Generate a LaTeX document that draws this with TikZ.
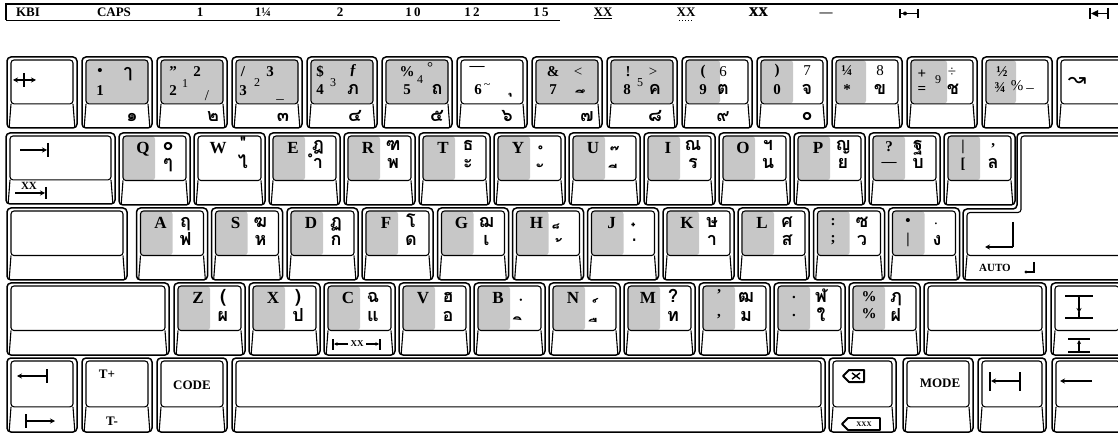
\documentclass[tikz,border=0pt]{standalone}
\usepackage{fontspec}
\setmainfont{Liberation Serif}
\newfontfamily\thaifont[Script=Thai]{Loma}
\newfontfamily\symfont{DejaVu Sans}
\usetikzlibrary{arrows.meta}
\tikzset{
  keyout/.style={line width=1.5pt, rounded corners=4pt},
  keyface/.style={line width=1.1pt, rounded corners=3pt},
  keyshade/.style={fill=black!22, rounded corners=2.5pt},
  lat/.style={font=\bfseries\fontsize{17}{17}\selectfont, anchor=base, inner sep=0pt},
  thb/.style={font=\thaifont\bfseries\fontsize{18}{18}\selectfont, anchor=base, inner sep=0pt},
  dig/.style={font=\bfseries\fontsize{15}{15}\selectfont, inner sep=0pt},
  supd/.style={font=\fontsize{12}{12}\selectfont, inner sep=0pt},
  regd/.style={font=\fontsize{15}{15}\selectfont, inner sep=0pt},
  lbl/.style={font=\bfseries\fontsize{13}{13}\selectfont, anchor=base, inner sep=0pt},
  klbl/.style={font=\bfseries\fontsize{13}{13}\selectfont, inner sep=0pt},
  sym/.style={line width=1.6pt},
  arr/.style={sym, -{Stealth[length=5pt,width=5pt]}},
}
\newcommand{\kks}[5]{%
  \ifdim #5pt>0pt \fill[keyshade] (#1+4.5,#2+3.5) rectangle (#1+4+#5,#2+0.66*#4-0.5);\fi
  \draw[keyout] (#1,#2) rectangle ++(#3,#4);
  \draw[keyface] (#1+4,#2+3) rectangle (#1+#3-4,#2+0.66*#4);
  \draw[keyface] (#1+4,#2+0.66*#4) -- (#1+2.2,#2+#4-0.8);
  \draw[keyface] (#1+#3-4,#2+0.66*#4) -- (#1+#3-2.2,#2+#4-0.8);
}
\newcommand{\lkey}[9]{%
  \kks{#2}{#3}{71}{72}{#7}%
  \node[lat] (#1) at (#2+24,#3+21) {#4};
  \node[thb] (#1t) at (#2+49,#3+#8) {#5};
  \node[thb] (#1b) at (#2+49,#3+#9) {#6};
}
\begin{document}
\begin{tikzpicture}[x=1pt,y=-1pt]
\useasboundingbox (0,0) rectangle (1118,435);
% ---------- top bar ----------
\draw[line width=1.3pt] (6,20) -- (6,4) -- (1118,4);
\draw[line width=0.8pt] (6,20) -- (560,20);
\node[lbl] (tKBI) at (28,17) {KBI};
\node[lbl] (tCAPS) at (114,17) {CAPS};
\node[lbl] (t1) at (200,17) {1};
\node[lbl] (t14) at (263,17) {1¼};
\node[lbl] (t2) at (340,17) {2};
\node[lbl] (t10) at (413,17) {1\,0};
\node[lbl] (t12) at (472,17) {1\,2};
\node[lbl] (t15) at (541,17) {1\,5};
\node[lbl] (tXXa) at (603,17) {\underline{XX}};
\node[lbl] (tXXb) at (686,17) {XX};
\draw[line width=1pt, dotted] (679,21) -- (693,21);
\node[lbl] (tXXc) at (758,17) {XX};
\node[lbl] (tXXd) at (758.8,17) {XX};
\node[lbl] (tdash) at (826,17) {—};
\draw[sym] (900,9) -- (900,18) (918,9) -- (918,18) (900,13.5) -- (918,13.5);
\fill (905,13.5) circle (2pt);
\draw[line width=2.2pt] (1090,8) -- (1090,19);
\draw[sym] (1108,8) -- (1108,19) (1092,13.5) -- (1108,13.5);
\fill (1091,13.5) -- (1098,10) -- (1098,17) -- cycle;
% ---------- row 1 ----------
\kks{7}{57}{70}{71}{0}
\kks{82}{57}{70}{71}{62}
\kks{157}{57}{70}{71}{62}
\kks{232}{57}{70}{71}{62}
\kks{307}{57}{70}{71}{62}
\kks{382}{57}{70}{71}{62}
\kks{457}{57}{70}{71}{0}
\kks{532}{57}{70}{71}{62}
\kks{607}{57}{70}{71}{62}
\kks{682}{57}{70}{71}{34}
\kks{757}{57}{70}{71}{32}
\kks{832}{57}{70}{71}{30}
\kks{907}{57}{70}{71}{36}
\kks{982}{57}{70}{71}{30}
\kks{1057}{57}{70}{71}{0}
% key 0
\draw[sym] (24,73) -- (24,87);
\draw[arr] (24,80) -- (13,80);
\draw[arr] (24,80) -- (36,80);
% key 1
\node[dig] (k1a) at (100,72) {•};
\node[dig] (k1b) at (100,91) {1};
\node[thb] (k1c) at (128,78) {ๅ};
\node[thb] (k1d) at (132,122) {๑};
% key 2
\node[dig] (k2a) at (173,72) {"};
\node[dig] (k2b) at (173,91) {2};
\node[supd] (k2c) at (185,84) {1};
\node[dig] (k2d) at (197,72) {2};
\node[regd] (k2e) at (207,96) {/};
\node[thb] (k2f) at (213,122) {๒};
% key 3
\node[dig] (k3a) at (243,72) {/};
\node[dig] (k3b) at (243,91) {3};
\node[supd] (k3c) at (257,83) {2};
\node[dig] (k3d) at (270,72) {3};
\node[regd] (k3e) at (280,99) {\_};
\node[thb] (k3f) at (283,122) {๓};
% key 4
\node[dig] (k4a) at (320,72) {\$};
\node[dig] (k4b) at (320,90) {4};
\node[supd] (k4c) at (333,83) {3};
\node[dig] (k4d) at (353,71) {ƒ};
\node[thb] (k4e) at (353,95) {ภ};
\node[thb] (k4f) at (355,122) {๔};
% key 5
\node[dig] (k5a) at (407,72) {\%};
\node[dig] (k5b) at (407,90) {5};
\node[supd] (k5c) at (420,80) {4};
\node[regd] (k5d) at (430,68) {°};
\node[thb] (k5e) at (437,95) {ถ};
\node[thb] (k5f) at (437,122) {๕};
% key 6
\node[dig] (k6a) at (477,68) {—};
\node[dig] (k6b) at (478,90) {6};
\node[supd] (k6c) at (487,86) {\textasciitilde};
\node[thb] (k6d) at (513,93) {ุ};
\node[thb] (k6e) at (507,122) {๖};
% key 7
\node[dig] (k7a) at (553,72) {\&};
\node[regd] (k7b) at (578,72) {<};
\node[dig] (k7c) at (553,90) {7};
\node[thb] (k7d) at (585,104.5) {ึ};
\node[thb] (k7e) at (587,122) {๗};
% key 8
\node[dig] (k8a) at (628,72) {!};
\node[regd] (k8b) at (653,72) {>};
\node[dig] (k8c) at (627,90) {8};
\node[supd] (k8d) at (640,83) {5};
\node[thb] (k8e) at (655,95) {ค};
\node[thb] (k8f) at (655,122) {๘};
% key 9
\node[dig] (k9a) at (703,72) {(};
\node[regd] (k9b) at (723,72) {6};
\node[dig] (k9c) at (703,90) {9};
\node[thb] (k9d) at (723,95) {ต};
\node[thb] (k9e) at (723,122) {๙};
% key 0
\node[dig] (k10a) at (777,71) {)};
\node[regd] (k10b) at (807,71) {7};
\node[dig] (k10c) at (777,90) {0};
\node[thb] (k10d) at (807,95) {จ};
\node[thb] (k10e) at (807,121) {๐};
% key -
\node[dig] (k11a) at (847,71) {¼};
\node[regd] (k11b) at (880,71) {8};
\node[dig] (k11c) at (847,90) {*};
\node[thb] (k11d) at (880,95) {ข};
% key =
\node[dig] (k12a) at (922,74) {+};
\node[supd] (k12b) at (938,80) {9};
\node[regd] (k12c) at (952,72) {÷};
\node[dig] (k12d) at (922,90) {=};
\node[thb] (k12e) at (953,95) {ช};
% key 13
\node[dig] (k13a) at (1002,72) {½};
\node[dig] (k13b) at (1000,88) {¾};
\node[regd] (k13c) at (1017,86) {\%};
\node[regd] (k13d) at (1030,88) {\_};
% key 14
\node[font=\symfont\fontsize{22}{22}\selectfont, inner sep=0pt] (k14a) at (1077,82) {↝};
% ---------- row 2 ----------
\kks{6}{133}{109}{71}{0}
\draw[arr] (20,150) -- (47,150);
\draw[sym] (48,143) -- (48,157);
\node[font=\bfseries\fontsize{11}{11}\selectfont, inner sep=0pt] (tabxx) at (29,186) {XX};
\draw[arr] (15,193) -- (45,193);
\draw[sym] (46,187) -- (46,199);
\lkey{kQ}{119}{133}{Q}{๐}{ๆ}{32}{18}{36}
\lkey{kW}{194}{133}{W}{"}{ไ}{0}{17}{36}
\lkey{kE}{269}{133}{E}{ฎ}{ำ}{32}{18}{36}
\lkey{kR}{344}{133}{R}{ฑ}{พ}{32}{18}{36}
\lkey{kT}{419}{133}{T}{ธ}{ะ}{32}{18}{36}
\lkey{kY}{494}{133}{Y}{ํ}{ั}{32}{28}{45.5}
\lkey{kU}{569}{133}{U}{๊}{ี}{32}{33}{47}
\lkey{kI}{644}{133}{I}{ณ}{ร}{32}{18}{36}
\lkey{kO}{719}{133}{O}{ฯ}{น}{32}{18}{36}
\lkey{kP}{794}{133}{P}{ญ}{ย}{32}{18}{36}
\kks{869}{133}{71}{72}{32}
\node[dig] (kLBa) at (889,147) {?};
\node[dig] (kLBb) at (889,164) {—};
\node[thb] (kLBc) at (918,151) {ฐ};
\node[thb] (kLBd) at (918,169) {บ};
\kks{944}{133}{71}{72}{32}
\node[dig] (kRBa) at (963,147) {|};
\node[dig] (kRBb) at (963,164) {[};
\node[dig] (kRBc) at (993,149) {’};
\node[thb] (kRBd) at (993,169) {ล};
% enter
\draw[keyout] (1017,133) -- (1125,133) -- (1125,280) -- (963,280) -- (963,209) -- (1017,209) -- cycle;
\draw[keyface] (1021,136) -- (1125,136) -- (1125,255.5) -- (967,255.5) -- (967,212.5) -- (1021,212.5) -- cycle;
\draw[keyface] (967,255.5) -- (965,279.2);
\draw[sym] (1013,222) -- (1013,247);
\draw[arr] (1013,247) -- (985,247);
\node[font=\bfseries\fontsize{11}{11}\selectfont, inner sep=0pt] (auto) at (995,268) {AUTO};
\draw[line width=1.3pt] (1034,262) -- (1034,272) -- (1026,272);
\fill (1026,272) circle (1.6pt);
% ---------- row 3 ----------
\kks{7}{208}{120}{72}{0}
\lkey{kA}{136.5}{208}{A}{ฤ}{ฟ}{32}{20}{38}
\lkey{kS}{211.5}{208}{S}{ฆ}{ห}{32}{20}{38}
\lkey{kD}{287}{208}{D}{ฏ}{ก}{32}{20}{38}
\lkey{kF}{362}{208}{F}{โ}{ด}{32}{20}{38}
\lkey{kG}{437.5}{208}{G}{ฌ}{เ}{32}{20}{38}
\lkey{kH}{512.5}{208}{H}{็}{้}{32}{33}{50}
\lkey{kJ}{587.5}{208}{J}{๋}{่}{32}{34}{50}
\lkey{kK}{663}{208}{K}{ษ}{า}{32}{20}{38}
\lkey{kL}{738}{208}{L}{ศ}{ส}{32}{20}{38}
\kks{813.5}{208}{71}{72}{32}
\node[dig] (kSCa) at (833,222) {:};
\node[dig] (kSCb) at (833,240) {;};
\node[thb] (kSCc) at (862,228) {ซ};
\node[thb] (kSCd) at (862,246) {ว};
\kks{888.5}{208}{71}{72}{32}
\node[dig] (kQTa) at (908,222) {•};
\node[dig] (kQTb) at (908,240) {|};
\node[regd] (kQTc) at (936,224) {.};
\node[thb] (kQTd) at (937,246) {ง};
% ---------- row 4 ----------
\kks{7}{283}{162}{72}{0}
\lkey{kZ}{174}{283}{Z}{(}{ผ}{32}{20}{39}
\lkey{kX}{249}{283}{X}{)}{ป}{32}{20}{39}
\lkey{kC}{324}{283}{C}{ฉ}{แ}{32}{20}{39}
\node[font=\bfseries\fontsize{9}{9}\selectfont, inner sep=0pt] (kCxx) at (357,344) {XX};
\draw[line width=1.1pt, -{Stealth[length=3.5pt,width=3.5pt]}] (348,344) -- (334,344);
\draw[line width=1.1pt, -{Stealth[length=3.5pt,width=3.5pt]}] (366,344) -- (379,344);
\draw[line width=1.3pt] (333,339) -- (333,350) (380,339) -- (380,350);
\lkey{kV}{399}{283}{V}{ฮ}{อ}{32}{20}{39}
\lkey{kB}{474}{283}{B}{ฺ}{ิ}{32}{16}{48.5}
\lkey{kN}{549}{283}{N}{์}{ื}{32}{34}{50}
\lkey{kM}{624}{283}{M}{?}{ท}{32}{20}{39}
\kks{699}{283}{71}{72}{32}
\node[dig] (kCMa) at (719,295) {’};
\node[dig] (kCMb) at (719,317) {,};
\node[thb] (kCMc) at (746,303) {ฒ};
\node[thb] (kCMd) at (746,322) {ม};
\kks{774}{283}{71}{72}{32}
\node[dig] (kDTa) at (794,297) {.};
\node[dig] (kDTb) at (794,315) {.};
\node[thb] (kDTc) at (821,303) {ฬ};
\node[thb] (kDTd) at (821,322) {ใ};
\kks{849}{283}{71}{72}{32}
\node[dig] (kSLa) at (869,297) {\%};
\node[dig] (kSLb) at (869,314) {\%};
\node[thb] (kSLc) at (896,303) {ฦ};
\node[thb] (kSLd) at (896,322) {ฝ};
\kks{924}{283}{122}{72}{0}
\kks{1051}{283}{72}{72}{0}
\draw[sym] (1065,296) -- (1093,296) (1065,318) -- (1093,318);
\draw[arr] (1079,296) -- (1079,313);
\draw[sym] (1079,312) -- (1079,318);
\draw[line width=1.3pt] (1068,339) -- (1090,339) (1068,352) -- (1090,352);
\draw[line width=1.2pt, -{Stealth[length=4pt,width=4pt]}] (1079,352) -- (1079,340);
% ---------- row 5 ----------
\kks{7}{358}{70}{74}{0}
\draw[arr] (47,376) -- (17,376);
\draw[sym] (47,369) -- (47,383);
\draw[sym] (26,414) -- (26,428);
\draw[arr] (26,421) -- (55,421);
\kks{82}{358}{70}{74}{0}
\node[klbl] (tplus) at (107,374) {T+};
\node[klbl] (tminus) at (112,421) {T-};
\kks{157}{358}{70}{74}{0}
\node[klbl] (code) at (192,385) {CODE};
\kks{232}{358}{593}{74}{0}
\kks{829}{358}{67}{74}{0}
\draw[line width=2pt, line join=round] (843,376) -- (849,370) -- (864,370) -- (864,382) -- (849,382) -- cycle;
\draw[line width=1.4pt] (852,373) -- (860,379) (852,379) -- (860,373);
\draw[line width=1.8pt, line join=round] (842,424) -- (848,418) -- (880,418) -- (880,430) -- (848,430) -- cycle;
\node[font=\bfseries\fontsize{7}{7}\selectfont, inner sep=0pt] (delx) at (864,424) {XXX};
\kks{903}{358}{70}{74}{0}
\node[klbl] (mode) at (940,383) {MODE};
\kks{978}{358}{68}{74}{0}
\draw[sym] (990,372) -- (990,391) (1020,372) -- (1020,391);
\draw[arr] (1020,381) -- (991,381);
\kks{1052}{358}{72}{74}{0}
\draw[arr] (1092,381) -- (1060,381);
\end{tikzpicture}
\end{document}
